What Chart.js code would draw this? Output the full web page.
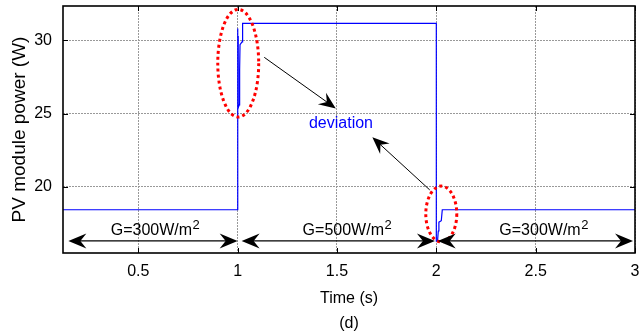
<!DOCTYPE html>
<html>
<head>
<meta charset="utf-8">
<script src="https://cdn.jsdelivr.net/npm/chart.js@4.4.0/dist/chart.umd.min.js"></script>
<style>
  html, body { margin: 0; padding: 0; background: #fff; }
</style>
</head>
<body>
<canvas id="myChart" width="640" height="336"></canvas>
<script>
// PV power response to irradiance steps
const time  = [0.121, 1.0, 1.0, 1.001, 1.002, 1.003, 1.008, 1.010, 1.012, 1.022, 1.025, 2.0, 2.0, 2.006, 2.010, 2.013, 2.025, 2.030, 3.0];
const power = [18.45, 18.45, 30.8, 26.0, 30.3, 25.4, 25.6, 28.0, 29.7, 29.9, 31.15, 31.15, 16.3, 16.3, 17.0, 17.6, 17.7, 18.45, 18.45];
const xTicks = [0.5, 1, 1.5, 2, 2.5, 3];
const yTicks = [20, 25, 30];
const irradiance = ['300', '500', '300'];

// annotation placement, in data units (time, power)
const notes = {
  ovals: [[1.003, 28.44, 0.103, 3.67], [2.025, 18.16, 0.078, 1.9]],
  pointers: [[1.134, 28.84, 1.494, 25.36], [1.967, 19.8, 1.678, 23.39]],
  spans: [[0.148, 1.0], [1.02, 1.993], [2.007, 2.99]],
  spanLevel: 16.32,
  labelAt: [0.584, 1.55, 2.54],
  labelLevel: 16.73,
  deviation: [1.52, 24.02]
};

const FONT = '"Liberation Sans", Arial, sans-serif';

function head(ctx, x, y, ang, len, half, notch) {
  const c = Math.cos(ang), s = Math.sin(ang);
  ctx.beginPath();
  ctx.moveTo(x, y);
  ctx.lineTo(x - len * c - half * s, y - len * s + half * c);
  ctx.lineTo(x - (len - notch) * c, y - (len - notch) * s);
  ctx.lineTo(x - len * c + half * s, y - len * s - half * c);
  ctx.closePath();
  ctx.fill();
}

const marks = {
  id: 'marks',
  afterDraw(chart) {
    const ctx = chart.ctx, xs = chart.scales.x, ys = chart.scales.y;
    const area = chart.chartArea;
    const px = v => xs.getPixelForValue(v), py = v => ys.getPixelForValue(v);
    ctx.save();

    // inner tick marks
    ctx.strokeStyle = '#000';
    ctx.lineWidth = 1;
    ctx.beginPath();
    xTicks.forEach(v => {
      const x = Math.round(px(v)) + 0.5;
      ctx.moveTo(x, area.bottom); ctx.lineTo(x, area.bottom - 5);
      ctx.moveTo(x, area.top); ctx.lineTo(x, area.top + 5);
    });
    yTicks.forEach(v => {
      const y = Math.round(py(v)) + 0.5;
      ctx.moveTo(area.left, y); ctx.lineTo(area.left + 5, y);
      ctx.moveTo(area.right, y); ctx.lineTo(area.right - 5, y);
    });
    ctx.stroke();

    // frame
    ctx.lineWidth = 1.6;
    ctx.strokeRect(area.left, area.top, area.right - area.left, area.bottom - area.top);

    // red dotted ovals
    ctx.strokeStyle = '#ff0000';
    ctx.lineWidth = 3;
    ctx.setLineDash([3, 3]);
    notes.ovals.forEach(([t, p, rt, rp]) => {
      const cx = px(t), cy = py(p);
      ctx.beginPath();
      ctx.ellipse(cx, cy, Math.abs(px(t + rt) - cx), Math.abs(py(p + rp) - cy), 0, 0, Math.PI * 2);
      ctx.stroke();
    });
    ctx.setLineDash([]);

    // pointer arrows
    ctx.strokeStyle = '#000';
    ctx.fillStyle = '#000';
    ctx.lineWidth = 1;
    notes.pointers.forEach(([t1, p1, t2, p2]) => {
      const x1 = px(t1), y1 = py(p1), x2 = px(t2), y2 = py(p2);
      const ang = Math.atan2(y2 - y1, x2 - x1);
      ctx.beginPath();
      ctx.moveTo(x1, y1);
      ctx.lineTo(x2 - 8 * Math.cos(ang), y2 - 8 * Math.sin(ang));
      ctx.stroke();
      head(ctx, x2, y2, ang, 17, 7, 6);
    });

    // double arrows for irradiance intervals
    const ly = py(notes.spanLevel);
    ctx.lineWidth = 1.2;
    notes.spans.forEach(([t1, t2]) => {
      const x1 = px(t1), x2 = px(t2);
      ctx.beginPath();
      ctx.moveTo(x1 + 8, ly); ctx.lineTo(x2 - 8, ly);
      ctx.stroke();
      head(ctx, x2, ly, 0, 18, 7.5, 6);
      head(ctx, x1, ly, Math.PI, 18, 7.5, 6);
    });

    // G labels with superscript
    const by = py(notes.labelLevel);
    notes.labelAt.forEach((t, i) => {
      const main = 'G=' + irradiance[i] + 'W/m';
      ctx.font = '16px ' + FONT;
      const wm = ctx.measureText(main).width;
      ctx.font = '13px ' + FONT;
      const ws = ctx.measureText('2').width;
      const x0 = px(t) - (wm + ws) / 2;
      ctx.textAlign = 'left';
      ctx.textBaseline = 'alphabetic';
      ctx.font = '16px ' + FONT;
      ctx.fillText(main, x0, by);
      ctx.font = '13px ' + FONT;
      ctx.fillText('2', x0 + wm + 0.5, by - 6);
    });

    // deviation label
    ctx.fillStyle = '#0000ff';
    ctx.font = '16px ' + FONT;
    ctx.textAlign = 'center';
    ctx.fillText('deviation', px(notes.deviation[0]), py(notes.deviation[1]));

    ctx.restore();
  }
};

const ctx = document.getElementById('myChart').getContext('2d');
new Chart(ctx, {
  type: 'scatter',
  data: {
    datasets: [{
      data: time.map((t, i) => ({ x: t, y: power[i] })),
      showLine: true,
      borderColor: '#0000ff',
      borderWidth: 1.2,
      pointRadius: 0,
      tension: 0
    }]
  },
  options: {
    responsive: false,
    animation: false,
    devicePixelRatio: 1,
    layout: { padding: { top: 6, right: 5, left: 0, bottom: 0 } },
    plugins: { legend: { display: false }, tooltip: { enabled: false } },
    scales: {
      x: {
        type: 'linear',
        min: 0.121,
        max: 3,
        afterBuildTicks: s => { s.ticks = xTicks.map(v => ({ value: v })); },
        afterFit: s => { s.height = 83; s.paddingLeft = 0; s.paddingRight = 0; },
        grid: { color: '#999999', lineWidth: 1, drawTicks: false },
        border: { display: false, dash: [2, 1] },
        ticks: { color: '#000', padding: 9, font: { family: FONT, size: 16 }, callback: v => String(v) },
        title: {
          display: true,
          text: ['Time (s)', '(d)'],
          color: '#000',
          padding: { top: 0, bottom: 0 },
          font: { family: FONT, size: 16, lineHeight: 1.5625 }
        }
      },
      y: {
        min: 15.5,
        max: 32.34,
        afterBuildTicks: s => { s.ticks = yTicks.map(v => ({ value: v })); },
        afterFit: s => { s.width = 63; s.paddingTop = 0; s.paddingBottom = 0; },
        grid: { color: '#999999', lineWidth: 1, drawTicks: false },
        border: { display: false, dash: [2, 1] },
        ticks: { color: '#000', padding: 11, font: { family: FONT, size: 16 }, callback: v => String(v) },
        title: {
          display: true,
          text: 'PV module power (W)',
          color: '#000',
          padding: { top: 8, bottom: 0 },
          font: { family: FONT, size: 19 }
        }
      }
    }
  },
  plugins: [marks]
});
</script>
</body>
</html>
